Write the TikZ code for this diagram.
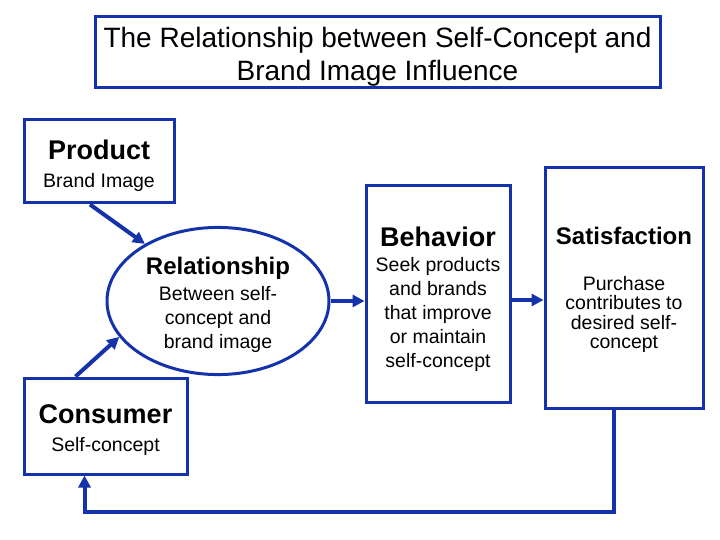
\documentclass[tikz,border=0pt]{standalone}
\usepackage{fontspec}
\setmainfont{Liberation Sans}
\usetikzlibrary{arrows.meta,shapes.geometric}
\definecolor{boxblue}{RGB}{20,50,170}
\newcommand{\headtxt}[2][27]{{\bfseries\fontsize{#1}{#1}\selectfont #2}}
\newcommand{\bodytxt}{\fontsize{19.5}{24}\selectfont}
\newcommand{\lift}[1]{\rule{0pt}{#1}}
\tikzset{
  frame/.style={draw=boxblue, line width=3pt, fill=white, inner sep=0pt, align=center, font=\bodytxt},
  flow/.style={draw=boxblue, line width=4pt, -{Triangle[length=12pt,width=12pt]}},
}
\begin{document}
\begin{tikzpicture}[x=1pt, y=-1pt]
\useasboundingbox[fill=white] (0,0) rectangle (720,540);

% title
\node[frame, minimum width=565pt, minimum height=71pt, font=\fontsize{28}{33}\selectfont] (title) at (377.5,52.5) {\lift{29pt}The Relationship between Self-Concept and\\Brand Image Influence};

% the five boxes
\node[frame, minimum width=150pt, minimum height=83pt] (prod) at (99,161.5) {\lift{28pt}\headtxt{Product}\\[4pt]Brand Image};
\node[frame, ellipse, minimum width=222pt, minimum height=147pt] (rel) at (218,301) {\lift{26pt}\headtxt[24]{Relationship}\\[2pt]Between self-\\concept and\\brand image};
\node[frame, minimum width=144pt, minimum height=216pt] (beh) at (438,294) {\lift{31pt}\headtxt{Behavior}\\[1pt]Seek products\\and brands\\that improve\\or maintain\\self-concept};
\node[frame, minimum width=158pt, minimum height=240pt, font=\fontsize{19.5}{19.5}\selectfont] (sat) at (624,288) {\lift{22pt}\headtxt[24]{Satisfaction}\\[26pt]Purchase\\contributes to\\desired self-\\concept};
\node[frame, minimum width=163pt, minimum height=96pt] (cons) at (105.5,426) {\lift{28pt}\headtxt{Consumer}\\[4pt]Self-concept};

% arrows
\draw[flow] ([xshift=-9pt]prod.south) -- (rel.142);
\draw[flow] ([xshift=-30pt]cons.north) -- (rel.200);
\draw[flow] (rel.east) -- (rel.east -| beh.west);
\draw[flow] ([yshift=-6pt]beh.east) -- ([yshift=-6pt]beh.east -| sat.west);
\draw[flow] ([xshift=-10pt]sat.south) -- ++(0,102) -| ([xshift=-21pt]cons.south);
\end{tikzpicture}
\end{document}
